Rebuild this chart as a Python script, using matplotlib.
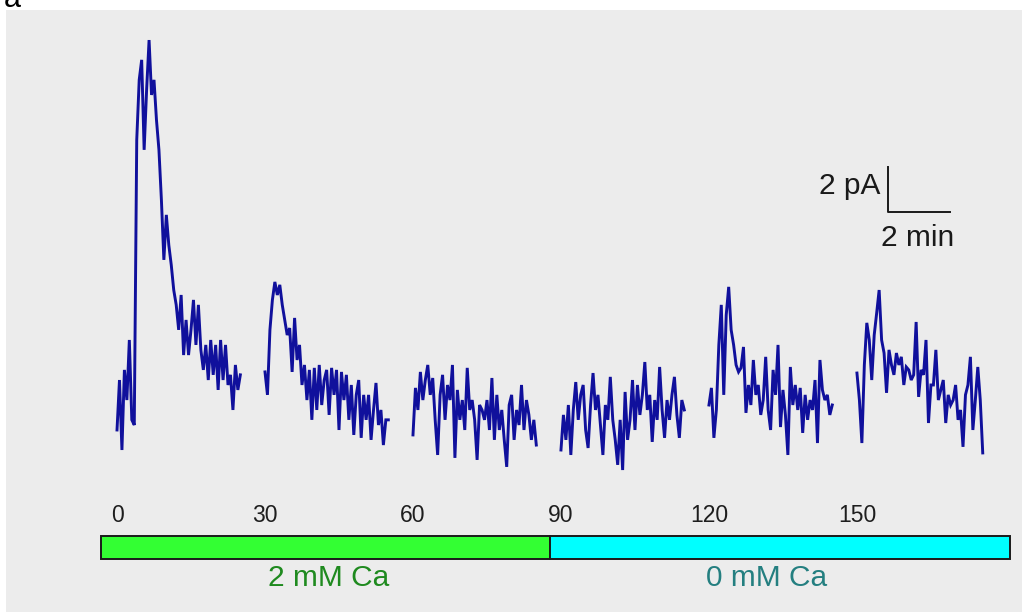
import numpy as np
import matplotlib.pyplot as plt
from matplotlib.patches import Rectangle

plt.rcParams['font.family'] = ['Liberation Sans', 'DejaVu Sans']

# Current traces (pA), sampled every 0.5 time units, one list per recording block
seg_starts = [0, 30, 60, 90, 120, 150]
trace_1 = [1.11, 3.33, 0.22, 3.78, 2.44, 5.11, 1.56, 1.33, 14.0, 16.67, 17.56,
           13.56, 16.22, 18.44, 16.0, 16.67, 14.89, 13.56, 11.33, 8.67, 10.67,
           9.33, 8.44, 7.33, 6.67, 5.56, 7.11, 4.44, 6.0, 4.44, 5.56, 6.89, 4.89,
           6.67, 4.67, 3.78, 4.89, 3.33, 5.11, 3.56, 4.89, 2.89, 5.11, 3.33, 4.89,
           3.11, 3.56, 2.0, 4.0, 2.89, 3.56]
trace_2 = [3.69, 2.67, 5.56, 6.89, 7.69, 7.11, 7.56, 6.67, 6.0, 5.33, 5.64,
           3.69, 6.09, 4.22, 4.89, 3.11, 4.0, 2.44, 3.78, 1.56, 3.87, 2.0, 4.0,
           2.22, 3.33, 3.78, 1.78, 3.87, 2.67, 3.78, 1.11, 3.69, 2.44, 3.56, 1.56,
           3.11, 0.89, 2.67, 3.33, 0.76, 2.67, 1.56, 2.67, 0.67, 2.0, 3.2, 1.33,
           2.0, 0.44, 1.56, 1.56]
trace_3 = [0.89, 2.98, 2.0, 3.69, 2.44, 3.33, 4.0, 2.67, 3.42, 1.56, 0.0,
           2.67, 3.56, 1.56, 3.11, 2.44, 4.0, -0.13, 2.89, 1.56, 2.44, 1.11, 3.87,
           2.0, 2.44, 1.56, -0.22, 2.22, 2.0, 1.56, 2.44, 1.11, 3.42, 0.67, 2.67,
           1.11, 2.0, 0.67, -0.53, 2.22, 2.67, 0.67, 2.0, 1.33, 3.11, 1.11, 2.44,
           1.78, 0.67, 1.56, 0.44]
trace_4 = [0.22, 1.78, 0.67, 2.22, 0.0, 2.0, 3.24, 1.56, 2.67, 3.11, 1.11,
           0.31, 2.22, 3.64, 2.0, 2.67, 1.33, 0.0, 2.22, 1.56, 3.47, 1.56, 0.67,
           -0.44, 1.56, -0.67, 2.8, 0.67, 1.56, 3.33, 1.11, 3.11, 1.78, 2.67, 4.13,
           2.0, 2.67, 0.58, 2.44, 1.56, 3.91, 2.0, 0.76, 2.44, 1.56, 2.67, 3.47,
           1.78, 0.76, 2.44, 2.0]
trace_5 = [2.22, 2.98, 0.76, 2.0, 4.89, 6.67, 2.67, 6.22, 7.47, 5.56, 4.89,
           4.0, 3.69, 3.87, 4.8, 1.87, 3.11, 2.22, 4.22, 2.67, 3.11, 1.78, 2.44,
           4.36, 2.0, 1.11, 3.78, 2.67, 4.89, 1.24, 2.89, 1.78, 0.0, 3.91, 2.22,
           3.11, 2.0, 2.98, 0.98, 2.67, 1.56, 2.44, 2.0, 3.33, 0.53, 4.22, 2.89,
           2.44, 2.67, 1.78, 2.22]
trace_6 = [3.64, 2.44, 0.53, 4.0, 5.87, 5.11, 3.33, 5.33, 6.31, 7.33, 5.11,
           4.53, 2.76, 4.67, 4.0, 3.56, 4.53, 4.0, 4.36, 3.11, 3.91, 3.78, 3.33,
           3.56, 5.91, 2.58, 3.78, 3.56, 5.11, 1.42, 3.11, 3.11, 4.67, 2.44, 2.89,
           3.33, 1.42, 2.67, 2.22, 2.44, 3.11, 1.56, 2.0, 0.36, 2.67, 3.11, 4.36,
           1.11, 2.44, 3.91, 2.44, 0.09]
traces = [trace_1, trace_2, trace_3, trace_4, trace_5, trace_6]

tick_values = [0, 30, 60, 90, 120, 150]
tick_labels = ['0', '30', '60', '90', '120', '150']

# solution bar: (start, end, fill colour, label, label x, label colour)
bar_start, bar_switch, bar_end = -3.3, 87.8, 181.0
solutions = [
    (bar_start, bar_switch, '#33ff33', '2 mM Ca', 42.8, '#1f8a1f'),
    (bar_switch, bar_end, '#00ffff', '0 mM Ca', 131.6, '#247f80'),
]

fig = plt.figure(figsize=(10.22, 6.12), dpi=100)
fig.patch.set_facecolor('white')

# grey panel behind everything
bg = fig.add_axes([6 / 1022, 0, 1 - 6 / 1022, 1 - 10 / 612], zorder=-1)
bg.set_facecolor('#ececec')
bg.axis('off')
bg.add_patch(Rectangle((0, 0), 1, 1, transform=bg.transAxes,
                       facecolor='#ececec', edgecolor='none'))

fig.text(0.004, 1 - 7 / 612, 'a', fontsize=22, va='baseline', ha='left')

ax = fig.add_axes([0, 0, 1, 1])
ax.set_facecolor('none')
ax.set_xlim(-23.72, 183.46)
ax.set_ylim(-6.98, 20.22)
ax.axis('off')

for start, tr in zip(seg_starts, traces):
    t = start + 0.5 * np.arange(len(tr))
    ax.plot(t, tr, color='#10109c', lw=2.1, solid_joinstyle='miter')

for v, lab in zip(tick_values, tick_labels):
    ax.text(v, -2.67, lab, fontsize=16.5, ha='center', va='center', color='#1e1e1e')

bar_bottom, bar_h = -4.62, 1.02
for x0, x1, fc, lab, lx, lc in solutions:
    ax.add_patch(Rectangle((x0, bar_bottom), x1 - x0, bar_h, facecolor=fc,
                           edgecolor='#1a1a1a', lw=1.4))
    ax.text(lx, -5.47, lab, fontsize=21.5, ha='center', va='center', color=lc)

# scale bar: 2 pA vertical, 2 min horizontal
sb_x, sb_y = 156.3, 10.8
sb_len_t, sb_len_pa = 12.57, 2.0
ax.plot([sb_x, sb_x, sb_x + sb_len_t], [sb_y + sb_len_pa, sb_y, sb_y],
        color='#1a1a1a', lw=1.4)
ax.text(sb_x - 1.6, sb_y + 1.16, '2 pA', fontsize=21.5, ha='right', va='center',
        color='#1a1a1a')
ax.text(sb_x + 5.9, sb_y - 1.16, '2 min', fontsize=21.5, ha='center', va='center',
        color='#1a1a1a')

fig.savefig('out.png', dpi=100)
